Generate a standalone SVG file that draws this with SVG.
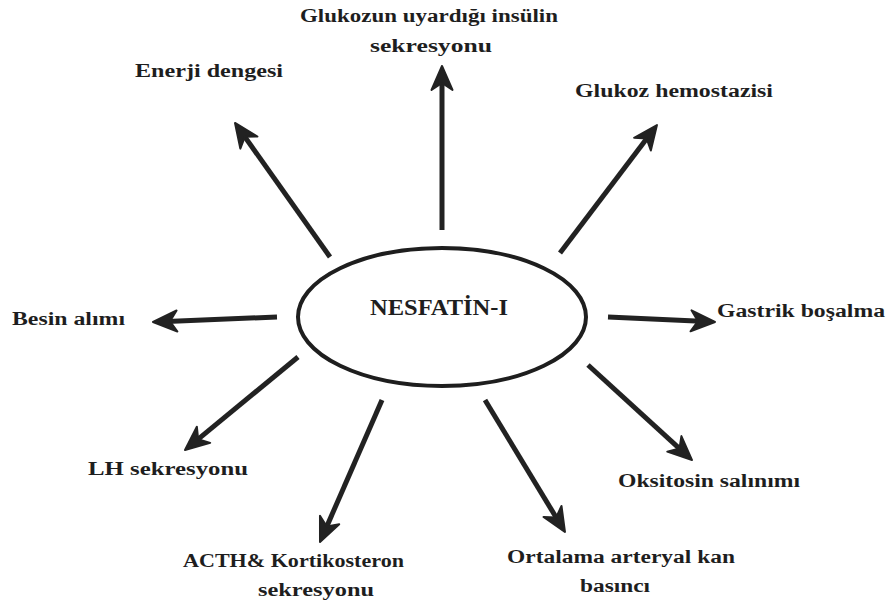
<svg xmlns="http://www.w3.org/2000/svg" width="888" height="608" viewBox="0 0 888 608">
<style>
text{font-family:'Liberation Serif','DejaVu Serif','Times New Roman',serif;font-weight:bold;font-size:18px;fill:#1e1e1e}
text.ctr{font-size:24px}
.conn line{stroke:#222;stroke-width:5;stroke-linecap:butt}
</style>
<defs>
<marker id="ah" markerUnits="userSpaceOnUse" markerWidth="32" markerHeight="28" viewBox="-30 -14 32 28" refX="-14" refY="0" orient="auto">
<path d="M0,0 L-24,-10.5 L-17,0 L-24,10.5 Z" fill="#222" stroke="#222" stroke-width="2" stroke-linejoin="round"/>
</marker>
</defs>
<rect width="888" height="608" fill="#fff"/>
<g id="connectors" class="conn">
<line x1="442" y1="230" x2="442" y2="80" marker-end="url(#ah)"/>
<line x1="330" y1="257" x2="243.1" y2="134.4" marker-end="url(#ah)"/>
<line x1="560" y1="253" x2="648.5" y2="136.2" marker-end="url(#ah)"/>
<line x1="277" y1="317" x2="167" y2="321.4" marker-end="url(#ah)"/>
<line x1="608" y1="317" x2="701" y2="321.3" marker-end="url(#ah)"/>
<line x1="298" y1="357" x2="195.8" y2="441.1" marker-end="url(#ah)"/>
<line x1="382" y1="400" x2="325.6" y2="529.2" marker-end="url(#ah)"/>
<line x1="485" y1="400" x2="557.7" y2="520" marker-end="url(#ah)"/>
<line x1="588" y1="365" x2="681.7" y2="450.6" marker-end="url(#ah)"/>
</g>
<g id="nesfatin">
<ellipse cx="442" cy="317" rx="144" ry="69" fill="#fff" stroke="#1e1e1e" stroke-width="4"/>
<text class="ctr" x="370" y="315" textLength="138" lengthAdjust="spacingAndGlyphs">NESFATİN-I</text>
</g>
<g id="insulin">
<text x="300" y="22" textLength="258" lengthAdjust="spacingAndGlyphs">Glukozun uyardığı insülin</text>
<text x="370" y="52" textLength="122" lengthAdjust="spacingAndGlyphs">sekresyonu</text>
</g>
<g id="enerji">
<text x="135" y="77" textLength="148" lengthAdjust="spacingAndGlyphs">Enerji dengesi</text>
</g>
<g id="glukoz">
<text x="575" y="97" textLength="198" lengthAdjust="spacingAndGlyphs">Glukoz hemostazisi</text>
</g>
<g id="besin">
<text x="12" y="325" textLength="113" lengthAdjust="spacingAndGlyphs">Besin alımı</text>
</g>
<g id="gastrik">
<text x="717" y="317" textLength="168" lengthAdjust="spacingAndGlyphs">Gastrik boşalma</text>
</g>
<g id="lh">
<text x="88" y="475" textLength="160" lengthAdjust="spacingAndGlyphs">LH sekresyonu</text>
</g>
<g id="oksitosin">
<text x="618" y="487" textLength="182" lengthAdjust="spacingAndGlyphs">Oksitosin salınımı</text>
</g>
<g id="acth">
<text x="183" y="567" textLength="221" lengthAdjust="spacingAndGlyphs">ACTH&amp; Kortikosteron</text>
<text x="258" y="596" textLength="116" lengthAdjust="spacingAndGlyphs">sekresyonu</text>
</g>
<g id="ortalama">
<text x="507" y="563" textLength="228" lengthAdjust="spacingAndGlyphs">Ortalama arteryal kan</text>
<text x="580" y="592" textLength="70" lengthAdjust="spacingAndGlyphs">basıncı</text>
</g>
</svg>
